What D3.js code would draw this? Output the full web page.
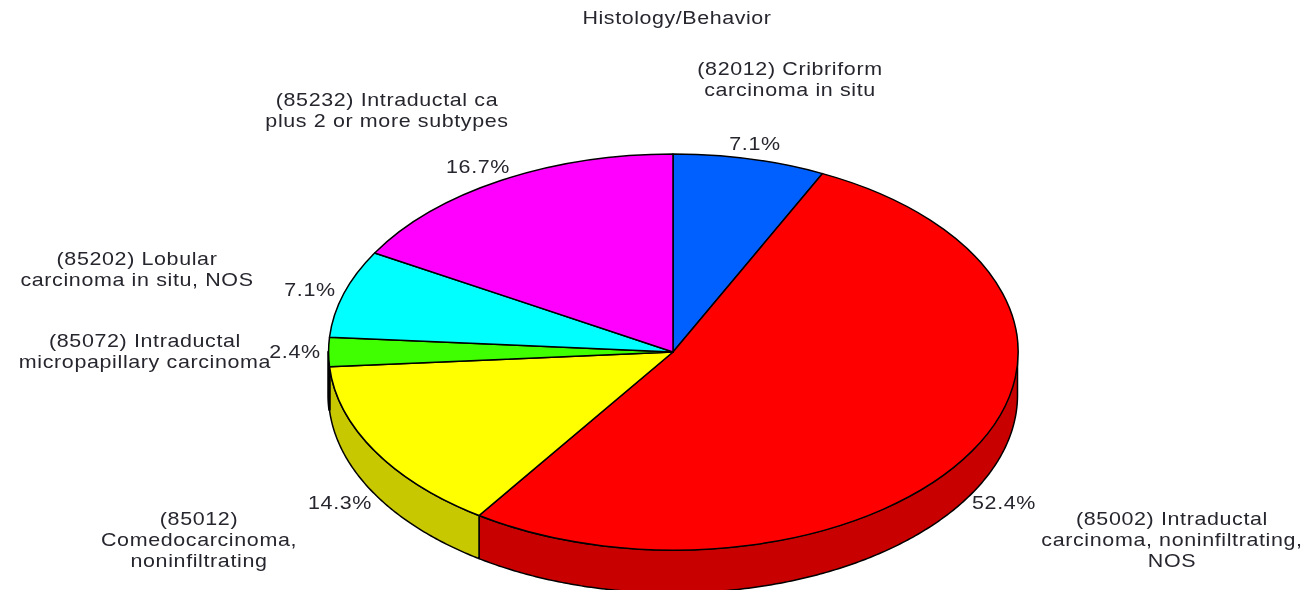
<!DOCTYPE html>
<html>
<head>
<meta charset="utf-8">
<script src="https://cdn.jsdelivr.net/npm/d3@7"></script>
<style>
  html, body { margin: 0; padding: 0; background: #fff; overflow: hidden; }
  text { font-family: "Liberation Sans", Arial, sans-serif; fill: #26262e; }
</style>
</head>
<body>
<div id="pie-chart"></div>
<script>
const title = "Histology/Behavior";
const categories = [
  ["(82012) Cribriform", "carcinoma in situ"],
  ["(85002) Intraductal", "carcinoma, noninfiltrating,", "NOS"],
  ["(85012)", "Comedocarcinoma,", "noninfiltrating"],
  ["(85072) Intraductal", "micropapillary carcinoma"],
  ["(85202) Lobular", "carcinoma in situ, NOS"],
  ["(85232) Intraductal ca", "plus 2 or more subtypes"]
];
const percents = [7.14, 52.38, 14.29, 2.38, 7.14, 16.67];
const topColors = ["#0060ff", "#ff0000", "#ffff00", "#40ff00", "#00ffff", "#ff00ff"];
const sideColors = ["#004dcc", "#c80000", "#c8c800", "#000000", "#00cccc", "#cc00cc"];

// where the text goes, block centres
const nameCentres = [[790, 79], [1172, 539], [199, 539], [145, 351], [137, 269], [387, 110]];
const percentCentres = [[755, 143], [1004, 502], [340, 502], [295, 351], [310, 289], [478, 166]];

const width = 1305,
  height = 590,
  cx = 673,
  cy = 352,
  rx = 344.5,
  ry = 198,
  depth = 43,
  stretch = 1.13; // the original text is wider than the font

const svg = d3.select("#pie-chart")
  .append("svg")
  .attr("width", width)
  .attr("height", height)
  .attr("viewBox", [0, 0, width, height])
  .style("display", "block")
  .style("filter", "blur(0.4px)");

const slices = d3.pie().sort(null)(percents);

// same angle convention as d3.arc: 0 at the top, clockwise
const px = a => cx + rx * Math.sin(a);
const py = a => cy - ry * Math.cos(a);

// the side wall, only where the rim faces the viewer
const wall = svg.append("g");
slices.forEach((s, i) => {
  const a0 = Math.max(s.startAngle, Math.PI / 2);
  const a1 = Math.min(s.endAngle, Math.PI * 1.5);
  if (a1 <= a0) return;
  const angles = d3.range(a0, a1, 0.01).concat([a1]);
  const rim = d3.line().x(a => px(a)).y(a => py(a));
  const under = d3.line().x(a => px(a)).y(a => py(a) + depth);
  const d = rim(angles) + "L" + under(angles.slice().reverse()).slice(1) + "Z";
  wall.append("path")
    .attr("d", d)
    .attr("fill", sideColors[i])
    .attr("stroke", "#000")
    .attr("stroke-width", i === 3 ? 2.5 : 1.5)
    .attr("stroke-linejoin", "round");
});

// top face: unit arc squashed into the ellipse
const arc = d3.arc().innerRadius(0).outerRadius(1);
svg.append("g")
  .attr("transform", `translate(${cx},${cy}) scale(${rx},${ry})`)
  .selectAll("path")
  .data(slices)
  .join("path")
  .attr("d", arc)
  .attr("fill", (d, i) => topColors[i])
  .attr("stroke", "#000")
  .attr("stroke-width", 1.5)
  .attr("stroke-linejoin", "round")
  .attr("vector-effect", "non-scaling-stroke");

// percent labels
svg.append("g")
  .selectAll("text")
  .data(slices)
  .join("text")
  .attr("transform", (d, i) => `translate(${percentCentres[i]}) scale(${stretch},1)`)
  .attr("dy", "0.35em")
  .attr("text-anchor", "middle")
  .style("font-size", "19px")
  .style("letter-spacing", "0.55px")
  .text(d => d.value.toFixed(1) + "%");

// slice names
svg.append("g")
  .selectAll("text")
  .data(categories)
  .join("text")
  .attr("transform", (d, i) => `translate(${nameCentres[i]}) scale(${stretch},1)`)
  .attr("text-anchor", "middle")
  .style("font-size", "19px")
  .style("letter-spacing", "0.55px")
  .selectAll("tspan")
  .data(d => d.map((line, j) => ({line, off: j - (d.length - 1) / 2})))
  .join("tspan")
  .attr("x", 0)
  .attr("y", d => d.off * 21)
  .attr("dy", "0.35em")
  .text(d => d.line);

svg.append("text")
  .attr("transform", `translate(677,18) scale(1.19,1)`)
  .attr("dy", "0.35em")
  .attr("text-anchor", "middle")
  .style("font-size", "18px")
  .style("letter-spacing", "0.5px")
  .text(title);
</script>
</body>
</html>
